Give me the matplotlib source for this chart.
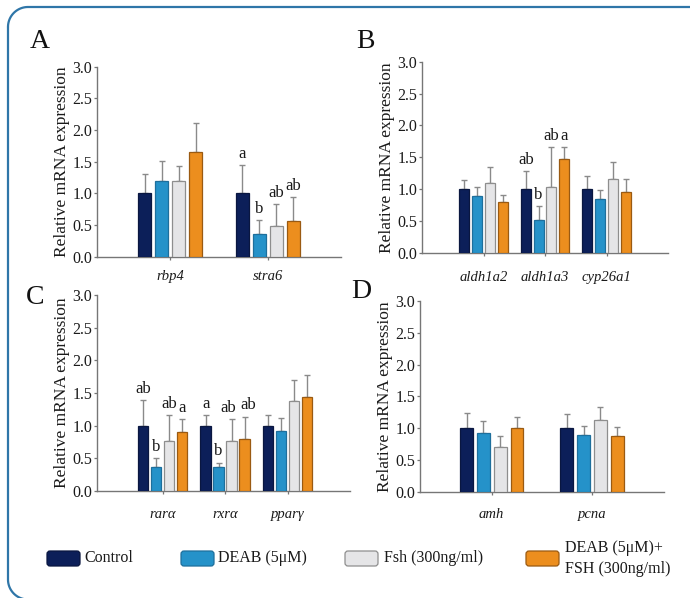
import matplotlib
matplotlib.use("Agg")
import matplotlib.pyplot as plt
from matplotlib.patches import FancyBboxPatch
import numpy as np

plt.rcParams['font.family'] = ['Liberation Serif', 'DejaVu Serif']

# ---- data -------------------------------------------------------------
treatments = ["Control", "DEAB (5μM)", "Fsh (300ng/ml)", "DEAB (5μM)+\nFSH (300ng/ml)"]

genes_a = ["rbp4", "stra6"]
mean_a = [[1.00, 1.20, 1.19, 1.66], [1.00, 0.36, 0.49, 0.57]]
sd_a = [[0.30, 0.31, 0.24, 0.45], [0.45, 0.22, 0.335, 0.38]]
sig_a = [["", "", "", ""], ["a", "b", "ab", "ab"]]

genes_b = ["aldh1a2", "aldh1a3", "cyp26a1"]
mean_b = [[1.00, 0.885, 1.09, 0.80], [1.00, 0.52, 1.035, 1.475], [1.00, 0.84, 1.165, 0.95]]
sd_b = [[0.145, 0.15, 0.26, 0.105], [0.28, 0.215, 0.625, 0.18], [0.20, 0.14, 0.265, 0.21]]
sig_b = [["", "", "", ""], ["ab", "b", "ab", "a"], ["", "", "", ""]]

genes_c = ["rarα", "rxrα", "pparγ"]
mean_c = [[1.00, 0.37, 0.76, 0.90], [1.00, 0.37, 0.76, 0.80], [1.00, 0.92, 1.37, 1.435]]
sd_c = [[0.39, 0.13, 0.40, 0.205], [0.165, 0.065, 0.34, 0.34], [0.16, 0.19, 0.335, 0.345]]
sig_c = [["ab", "b", "ab", "a"], ["a", "b", "ab", "ab"], ["", "", "", ""]]

genes_d = ["amh", "pcna"]
mean_d = [[1.00, 0.93, 0.70, 1.00], [1.00, 0.895, 1.125, 0.875]]
sd_d = [[0.235, 0.18, 0.175, 0.175], [0.22, 0.135, 0.21, 0.14]]
sig_d = [["", "", "", ""], ["", "", "", ""]]

yticks = [0.0, 0.5, 1.0, 1.5, 2.0, 2.5, 3.0]

# ---- style ------------------------------------------------------------
fill_colors = ["#0c1f59", "#2592c9", "#e5e5e7", "#ec8e1e"]
edge_colors = ["#0a1740", "#1e6f9c", "#8e8e8e", "#9a5a12"]
spine_col = "#767676"
err_col = "#8a8a8a"
frame_col = "#2f76a8"
text_col = "#1a1a1a"

W, H = 690, 598
fig = plt.figure(figsize=(W / 100, H / 100), dpi=100)
fig.patch.set_facecolor("white")


def make_axes(left, right, top, bottom):
    return fig.add_axes([left / W, 1 - bottom / H, (right - left) / W, (bottom - top) / H])


def draw_panel(ax, genes, means, sds, sigs, xlim, bar_w, step, gene_pad, width_px,
               label_nudge=None):
    label_nudge = label_nudge or {}
    ax.set_xlim(*xlim)
    ax.set_ylim(0, 3.0)
    for gi, gene in enumerate(genes):
        for ti in range(len(treatments)):
            x = gi + (ti - 1.5) * step
            m = means[gi][ti]
            s = sds[gi][ti]
            ax.bar(x, m, width=bar_w, color=fill_colors[ti], edgecolor=edge_colors[ti],
                   linewidth=0.9, zorder=3)
            ax.errorbar(x, m, yerr=[[0], [s]], fmt="none", ecolor=err_col,
                        elinewidth=1.0, capsize=2.3, capthick=1.0, zorder=2)
            if sigs[gi][ti]:
                dx = label_nudge.get((gi, ti), 0.0)
                ax.text(x + dx, m + s + 0.11, sigs[gi][ti], ha="center", va="baseline",
                        fontsize=12, color=text_col, zorder=4)
    for side in ("top", "right"):
        ax.spines[side].set_visible(False)
    for side in ("left", "bottom"):
        ax.spines[side].set_color(spine_col)
        ax.spines[side].set_linewidth(1.0)
    ax.set_yticks(yticks)
    ax.set_yticklabels([f"{v:.1f}" for v in yticks], fontsize=11.5, color=text_col)
    ax.set_xticks(range(len(genes)))
    ax.set_xticklabels(genes, fontsize=10.5, fontstyle="italic", color=text_col)
    ax.tick_params(axis="y", length=2.5, width=0.9, color=spine_col, pad=1)
    ax.tick_params(axis="x", length=2.5, width=0.9, color=spine_col, pad=gene_pad)
    ax.set_ylabel("Relative mRNA expression", fontsize=12.5, color=text_col)
    ax.yaxis.set_label_coords(-27 / width_px, 0.5)
    ax.patch.set_visible(False)


# panel A
ax_a = make_axes(97, 341, 66.7, 256.7)
draw_panel(ax_a, genes_a, mean_a, sd_a, sig_a, (-0.75, 1.75), 13.3 / 97.7, 17 / 97.7, 7.2, 244)
# panel B
ax_b = make_axes(422, 668, 61.7, 252.7)
draw_panel(ax_b, genes_b, mean_b, sd_b, sig_b, (-1.0, 3.0), 10 / 61.5, 12.7 / 61.5, 10.8, 246)
# panel C
ax_c = make_axes(97, 350, 295, 491)
draw_panel(ax_c, genes_c, mean_c, sd_c, sig_c, (-1.05, 3.0), 10.7 / 62.5, 13 / 62.5, 10.0, 253,
           label_nudge={(1, 2): -0.05, (1, 3): 0.06})
# panel D
ax_d = make_axes(420, 663.7, 301, 491.7)
draw_panel(ax_d, genes_d, mean_d, sd_d, sig_d, (-0.715, 1.715), 12.8 / 100.3, 16.8 / 100.3, 9.4, 243.7)

# ---- overlay in pixel units: frame, panel letters, legend ---------------
ov = fig.add_axes([0, 0, 1, 1])
ov.set_xlim(0, W)
ov.set_ylim(H, 0)
ov.axis("off")
ov.patch.set_visible(False)

# rounded outer frame (right and bottom sides run just past the canvas)
fx0, fy0, fx1, fy1, rad = 8.0, 7.0, 712.0, 599.5, 20.0
t = np.linspace(0, np.pi / 2, 30)
xs = np.concatenate([
    fx0 + rad - rad * np.cos(t),            # top-left corner
    [fx1 - rad],
    fx1 - rad + rad * np.sin(t),            # top-right corner
    [fx1],
    fx1 - rad + rad * np.cos(t),            # bottom-right corner
    [fx0 + rad],
    fx0 + rad - rad * np.sin(t),            # bottom-left corner
    [fx0],
])
ys = np.concatenate([
    fy0 + rad - rad * np.sin(t),
    [fy0],
    fy0 + rad - rad * np.cos(t),
    [fy1 - rad],
    fy1 - rad + rad * np.sin(t),
    [fy1],
    fy1 - rad + rad * np.cos(t),
    [fy0 + rad],
])
ov.plot(xs, ys, color=frame_col, linewidth=1.6, solid_capstyle="round", clip_on=True)

for letter, (lx, ly) in zip("ABCD", [(40, 41), (365, 41), (35, 297), (361, 292)]):
    ov.text(lx, ly, letter, fontsize=20, ha="center", va="center", color="#111111")

legend_patch_x = [47, 181, 345, 526]
legend_text_x = [84, 218, 384, 565]
for ti, label in enumerate(treatments):
    ov.add_patch(FancyBboxPatch((legend_patch_x[ti], 551), 33, 15,
                                boxstyle="round,pad=0,rounding_size=3",
                                facecolor=fill_colors[ti], edgecolor=edge_colors[ti],
                                linewidth=0.9))
    ov.text(legend_text_x[ti], 558.5, label, fontsize=11.5, ha="left", va="center",
            color=text_col, linespacing=1.45)

fig.savefig("out.png", dpi=100, facecolor="white")
